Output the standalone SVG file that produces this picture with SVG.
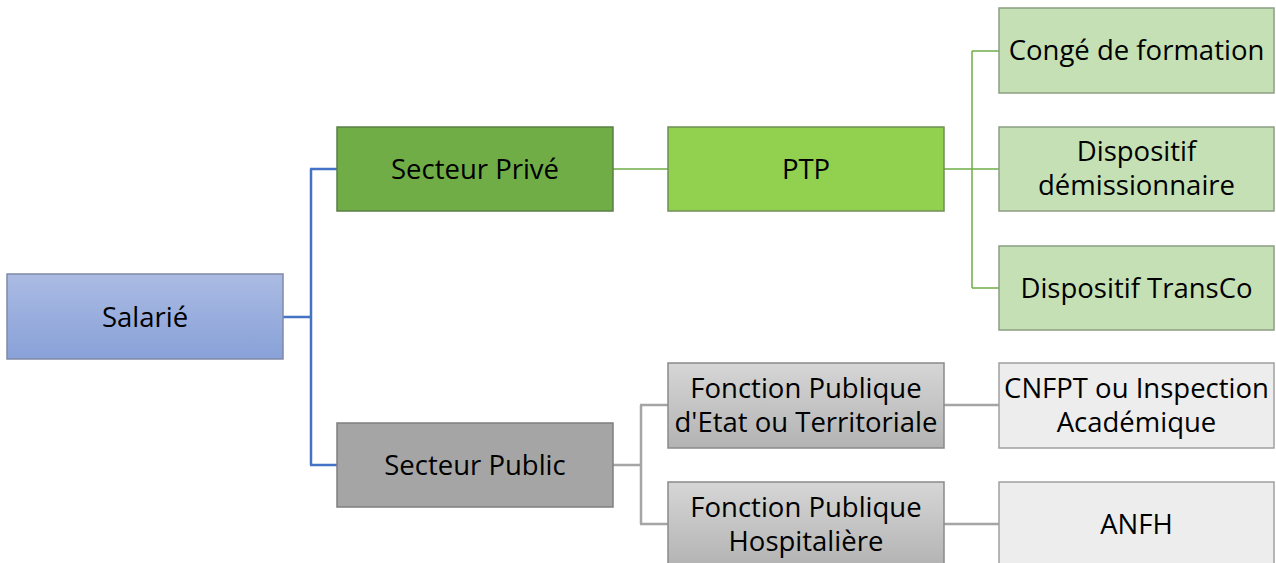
<svg xmlns="http://www.w3.org/2000/svg" width="1276" height="563" viewBox="0 0 1276 563">
<defs>
<linearGradient id="gBlue" x1="0" y1="0" x2="0" y2="1"><stop offset="0" stop-color="#abbbe3"/><stop offset="1" stop-color="#88a1d8"/></linearGradient>
<linearGradient id="gGrey" x1="0" y1="0" x2="0" y2="1"><stop offset="0" stop-color="#d6d6d6"/><stop offset="1" stop-color="#b3b3b3"/></linearGradient>
<style>
.box{stroke-width:1.5}
.t{font-family:"Open Sans","Liberation Sans",sans-serif;font-size:27.5px;fill:#000;text-anchor:middle}
.blue{fill:none;stroke:#4472c4;stroke-width:2.5}
.green{fill:none;stroke:#70ad47;stroke-width:1.5}
.grey{fill:none;stroke:#a5a5a5;stroke-width:2.5}
</style>
</defs>
<rect width="1276" height="563" fill="#fff"/>
<g id="connectors">
<path class="blue" d="M283,317 H311 M311,169 V465 M310,169 H337 M310,465 H337"/>
<path class="green" d="M613,169 H668 M944,169 H999 M972,51 V288 M972,51 H999 M972,288 H999"/>
<path class="grey" d="M613,465 H641 M641,405 V524 M640,405 H668 M640,524 H668 M944,405 H999 M944,524 H999"/>
</g>
<g id="salarie"><rect class="box" x="7" y="274" width="276" height="85" fill="url(#gBlue)" stroke="#7f8aa6"/><text class="t" x="145" y="327">Salarié</text></g>
<g id="secteur-prive"><rect class="box" x="337" y="127" width="276" height="84" fill="#70ad47" stroke="#5a7f45"/><text class="t" x="475" y="179">Secteur Privé</text></g>
<g id="secteur-public"><rect class="box" x="337" y="423" width="276" height="84" fill="#a5a5a5" stroke="#7f7f7f"/><text class="t" x="475" y="475">Secteur Public</text></g>
<g id="ptp"><rect class="box" x="668" y="127" width="276" height="84" fill="#92d050" stroke="#6f8f55"/><text class="t" x="806" y="179">PTP</text></g>
<g id="conge"><rect class="box" x="999" y="8" width="275" height="85" fill="#c5e0b4" stroke="#8c9f82"/><text class="t" x="1136.5" y="60">Congé de formation</text></g>
<g id="demissionnaire"><rect class="box" x="999" y="127" width="275" height="84" fill="#c5e0b4" stroke="#8c9f82"/><text class="t" x="1136.5" y="161">Dispositif</text><text class="t" x="1136.5" y="195">démissionnaire</text></g>
<g id="transco"><rect class="box" x="999" y="246" width="275" height="84" fill="#c5e0b4" stroke="#8c9f82"/><text class="t" x="1136.5" y="298">Dispositif TransCo</text></g>
<g id="fp-etat"><rect class="box" x="668" y="363" width="276" height="85" fill="url(#gGrey)" stroke="#8a8a8a"/><text class="t" x="806" y="398">Fonction Publique</text><text class="t" x="806" y="432">d'Etat ou Territoriale</text></g>
<g id="fp-hosp"><rect class="box" x="668" y="482" width="276" height="85" fill="url(#gGrey)" stroke="#8a8a8a"/><text class="t" x="806" y="517">Fonction Publique</text><text class="t" x="806" y="551">Hospitalière</text></g>
<g id="cnfpt"><rect class="box" x="999" y="363" width="275" height="85" fill="#ededed" stroke="#a0a0a0"/><text class="t" x="1136.5" y="398">CNFPT ou Inspection</text><text class="t" x="1136.5" y="432">Académique</text></g>
<g id="anfh"><rect class="box" x="999" y="482" width="275" height="85" fill="#ededed" stroke="#a0a0a0"/><text class="t" x="1136.5" y="534">ANFH</text></g>
</svg>
